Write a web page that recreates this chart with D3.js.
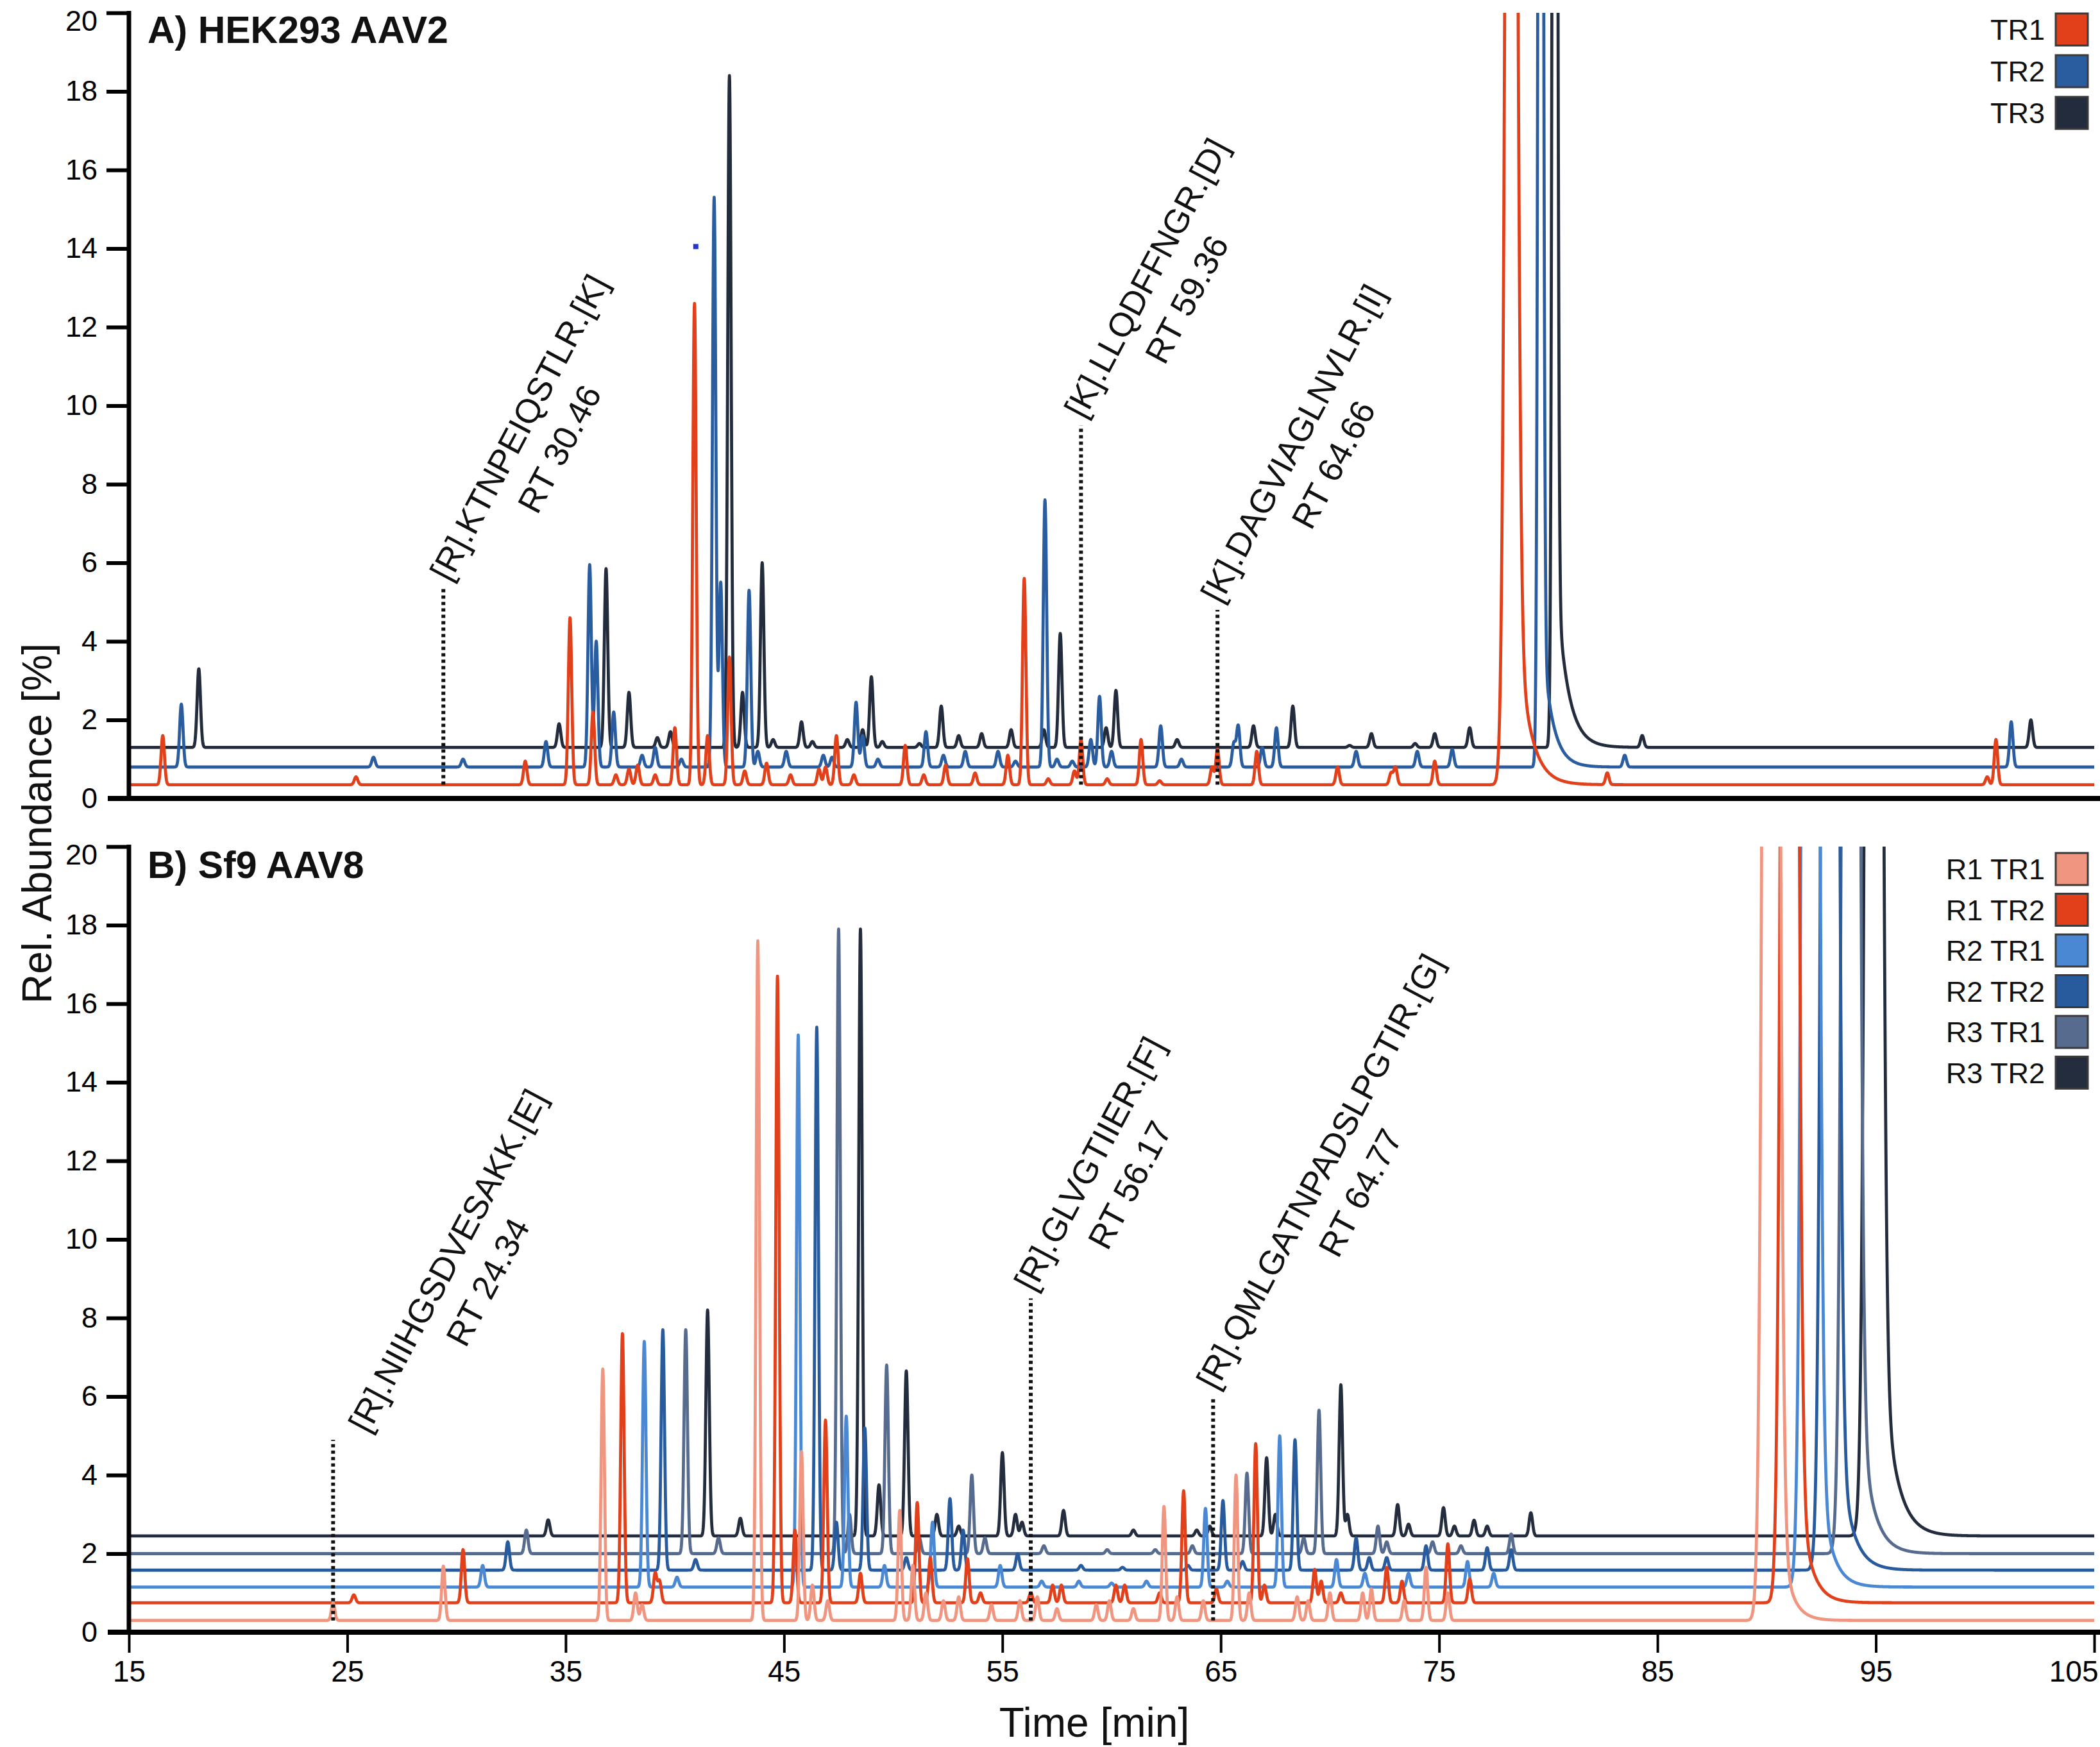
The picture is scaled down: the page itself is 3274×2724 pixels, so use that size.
<!DOCTYPE html>
<html><head><meta charset="utf-8">
<script src="https://cdn.jsdelivr.net/npm/d3@7/dist/d3.min.js"></script>
<style>body{margin:0;background:#fff} svg{display:block}</style>
</head><body>
<svg id="chart" width="3274" height="2724"></svg>
<script>
// ---------------- DATA ----------------
const timeTicks = [15, 25, 35, 45, 55, 65, 75, 85, 95, 105];
const abundanceTicks = [0, 2, 4, 6, 8, 10, 12, 14, 16, 18, 20];

// Panel A – HEK293 AAV2
const seriesA = ["TR1", "TR2", "TR3"];
const colorsA = ["#e2401b", "#2a5d9f", "#222c3c"];
const baselineA = [0.35, 0.8, 1.3];
// peaks: [retention time (min), apex value (%)]
const peaksA_TR1 = [[16.55,1.6],[25.4,0.55],[33.15,0.95],[35.2,4.6],[36.25,2.2],[37.3,0.6],[37.9,0.75],[38.3,0.85],[39.1,0.6],[40.0,1.8],[40.9,12.6],[41.5,1.6],[42.5,3.6],[43.2,0.7],[44.2,0.9],[45.3,0.6],[46.6,0.75],[46.9,0.8],[47.4,1.6],[48.2,0.6],[50.55,1.35],[51.4,0.6],[52.4,0.85],[53.75,0.65],[55.25,1.1],[56.0,5.6],[57.1,0.5],[58.3,0.7],[58.6,1.5],[59.8,0.5],[61.35,1.5],[62.2,0.45],[64.6,0.8],[64.85,1.25],[66.65,1.2],[70.35,0.8],[72.8,0.65],[73.0,0.8],[74.8,0.95],[82.7,0.65],[100.1,0.55],[100.5,1.5]];
const peaksA_TR2 = [[17.4,2.4],[26.2,1.05],[30.3,1.0],[34.1,1.45],[36.1,5.95],[36.4,4.0],[37.2,2.2],[38.5,1.1],[39.1,1.3],[40.3,1.0],[41.8,15.3],[42.1,5.5],[43.4,5.3],[43.8,1.2],[45.1,1.2],[46.8,1.1],[47.2,1.05],[48.3,2.45],[48.6,1.6],[49.3,1.0],[51.5,1.7],[52.3,1.1],[53.3,1.2],[54.8,1.2],[55.6,0.95],[56.95,7.6],[57.5,1.0],[58.2,0.95],[59.05,1.5],[59.45,2.6],[60.0,1.2],[62.25,1.85],[63.2,1.0],[65.6,1.4],[65.8,1.85],[66.9,1.3],[67.55,1.8],[71.2,1.2],[74.0,1.2],[75.6,1.25],[83.5,1.1],[101.2,1.95]];
const peaksA_TR3 = [[18.2,3.3],[34.7,1.9],[36.85,5.85],[37.9,2.7],[39.2,1.55],[39.8,1.7],[42.5,18.4],[43.1,2.7],[44.0,6.0],[44.5,1.5],[45.8,1.95],[46.3,1.45],[47.9,1.5],[48.6,1.75],[49.0,3.1],[49.5,1.45],[51.2,1.4],[52.2,2.35],[53.0,1.6],[54.05,1.65],[55.4,1.75],[56.9,1.75],[57.65,4.2],[59.75,1.8],[60.2,2.75],[63.0,1.5],[66.5,1.85],[68.3,2.35],[70.9,1.35],[71.9,1.65],[73.9,1.4],[74.8,1.65],[76.4,1.8],[84.3,1.6],[102.1,2.0]];
// off-scale main peak: [rt, apex, sigma (min), tail amplitude, tail decay (min)]
const mainPeakA = [[78.3,60,0.2,7,0.55],[79.65,60,0.09,4,0.45],[80.3,60,0.09,5,0.5]];
const stray = [[40.96, 14.05]];

// Panel B – Sf9 AAV8
const seriesB = ["R1 TR1", "R1 TR2", "R2 TR1", "R2 TR2", "R3 TR1", "R3 TR2"];
const colorsB = ["#f0957f", "#e2401b", "#4a88d4", "#285b9e", "#566b8e", "#232d3e"];
const baselineB = [0.3, 0.75, 1.15, 1.58, 2.0, 2.45];
const peaksB_R1TR1 = [[24.35,0.75],[29.4,1.68],[36.7,6.7],[38.2,1.0],[38.5,0.7],[43.8,17.6],[45.8,4.6],[46.3,1.2],[47.0,0.8],[50.3,3.1],[50.9,1.7],[51.5,1.0],[52.3,0.8],[53.0,0.9],[54.5,0.7],[55.8,0.8],[56.6,0.9],[57.5,0.6],[59.3,0.7],[59.9,0.8],[61.0,0.6],[62.4,3.2],[63.0,0.9],[64.2,0.8],[65.7,4.0],[66.3,1.0],[68.5,0.9],[69.0,0.8],[70.0,1.0],[71.5,1.0],[71.9,1.1],[73.4,0.8],[74.4,1.65],[75.4,1.0]];
const peaksB_R1TR2 = [[25.3,0.95],[30.3,2.1],[37.6,7.6],[39.1,1.5],[39.3,1.3],[44.7,16.7],[45.5,2.6],[46.9,5.4],[48.5,1.5],[51.1,3.3],[51.7,1.9],[53.4,1.87],[54.0,1.0],[56.3,1.0],[57.3,1.2],[57.7,1.2],[60.2,1.2],[60.6,1.2],[62.2,1.0],[63.3,3.6],[64.8,1.1],[66.6,4.8],[67.0,1.2],[69.3,1.6],[69.6,1.3],[70.5,1.0],[72.6,1.65],[73.3,1.3],[75.4,2.25],[76.4,1.35]];
const peaksB_R2TR1 = [[31.2,1.7],[38.6,7.4],[40.1,1.4],[45.65,15.2],[47.85,5.5],[49.6,1.7],[51.8,2.8],[54.9,1.7],[56.8,1.3],[58.5,1.3],[60.0,1.25],[61.6,1.3],[64.3,3.15],[65.3,1.3],[67.7,5.0],[70.3,1.85],[71.6,1.5],[73.6,1.5],[76.3,1.8],[77.5,1.5]];
const peaksB_R2TR2 = [[32.35,2.3],[39.45,7.7],[40.95,1.85],[46.5,15.4],[47.4,2.8],[48.7,5.2],[50.6,1.9],[52.6,3.4],[53.2,2.6],[55.7,2.0],[58.6,1.7],[60.5,1.65],[63.5,1.7],[65.1,3.35],[66.0,1.8],[68.4,4.9],[71.2,2.4],[71.8,1.9],[72.6,1.9],[74.4,2.2],[77.2,2.15],[78.3,2.1]];
const peaksB_R3TR1 = [[33.2,2.6],[40.5,7.7],[42.0,2.4],[47.5,17.9],[48.0,3.0],[49.7,6.8],[51.2,2.4],[53.6,4.0],[54.2,2.4],[56.9,2.2],[59.8,2.1],[62.0,2.1],[63.7,2.2],[66.2,4.05],[68.8,2.4],[69.5,5.65],[72.2,2.7],[72.6,2.3],[74.7,2.3],[76.0,2.2],[78.3,2.5]];
const peaksB_R3TR2 = [[34.2,2.86],[41.5,8.2],[43.0,2.9],[48.5,17.9],[49.35,3.75],[50.6,6.65],[52.0,3.0],[53.0,2.7],[55.0,4.57],[55.6,3.0],[55.9,2.8],[57.8,3.1],[61.0,2.6],[63.9,2.6],[64.5,2.7],[67.1,4.44],[67.5,3.0],[70.5,6.3],[70.8,3.0],[73.1,3.25],[73.6,2.75],[75.2,3.17],[75.7,2.7],[76.6,2.85],[77.2,2.7],[79.2,3.04]];
const mainPeakB = [[90.2,100,0.24,6,0.45],[91.05,100,0.24,7,0.5],[92.0,100,0.24,7,0.5],[92.9,100,0.24,7,0.55],[93.85,100,0.24,8,0.55],[94.9,100,0.24,9,0.6]];

// annotations: retention-time marker [time, top value, bottom value]
const markersA = [[29.4,5.35,0.35],[58.6,9.5,0.35],[64.85,4.8,0.35]];
const labelsA = [["[R].KTNPEIQSTLR.[K]","RT 30.46"],["[K].LLQDFFNGR.[D]","RT 59.36"],["[K].DAGVIAGLNVLR.[I]","RT 64.66"]];
const markersB = [[24.35,4.9,0.3],[56.3,8.5,0.3],[64.65,6.0,0.3]];
const labelsB = [["[R].NIIHGSDVESAKK.[E]","RT 24.34"],["[R].GLVGTIIER.[F]","RT 56.17"],["[R].QMLGATNPADSLPGTIR.[G]","RT 64.77"]];

// ---------------- DRAWING ----------------
const FONT = "'Liberation Sans', Arial, sans-serif";
const svg = d3.select("#chart");
const W = 3274;
const x = d3.scaleLinear().domain([15, 105]).range([201, 3265]);
const yA = d3.scaleLinear().domain([0, 20]).range([1245, 20]);
const yB = d3.scaleLinear().domain([0, 20]).range([2545, 1320]);

const SIGMA = 0.078;
function buildTrace(base, peaks, main) {
  const pts = [];
  for (let i = 0; i <= 9000; i++) {
    const t = 15 + i * 0.01;
    let v = base;
    for (const [rt, apex] of peaks) {
      const d = (t - rt) / SIGMA;
      if (d > -7 && d < 7) v += (apex - base) * Math.exp(-0.5 * d * d);
    }
    if (main) {
      const [rt, h, w, ta, tau] = main;
      const d = (t - rt) / w;
      const g = Math.exp(-0.5 * d * d);
      v += h * g;
      if (t > rt) v += ta * Math.exp(-(t - rt) / tau) * (1 - g);
    }
    pts.push([t, v]);
  }
  return pts;
}

function panel(y, id, traces, colors, markers, labels, labelShift) {
  const g = svg.append("g");
  g.append("clipPath").attr("id", id).append("rect")
    .attr("x", x(15)).attr("y", y(20)).attr("width", x(105) - x(15) + 8).attr("height", y(0) - y(20));
  const line = d3.line().x(d => x(d[0])).y(d => y(d[1]));
  const lg = g.append("g").attr("clip-path", `url(#${id})`);
  for (let i = traces.length - 1; i >= 0; i--) {
    lg.append("path").datum(traces[i]).attr("d", line)
      .attr("fill", "none").attr("stroke", colors[i]).attr("stroke-width", 4.8)
      .attr("stroke-linejoin", "round");
  }
  markers.forEach((m, k) => {
    g.append("line").attr("x1", x(m[0])).attr("x2", x(m[0]))
      .attr("y1", y(m[2])).attr("y2", y(m[1]))
      .attr("stroke", "#111").attr("stroke-width", 6).attr("stroke-dasharray", "5,5");
    const ang = -62, rad = ang * Math.PI / 180;
    const dirx = Math.cos(rad), diry = Math.sin(rad);
    const sx = x(m[0]) + labelShift[k], sy = y(m[1]) - 8;
    const t1 = g.append("text").text(labels[k][0])
      .attr("font-family", FONT).attr("font-size", 53).attr("fill", "#111");
    const L = t1.node().getComputedTextLength();
    const cx = sx + dirx * L / 2, cy = sy + diry * L / 2;
    t1.attr("text-anchor", "middle")
      .attr("transform", `translate(${cx},${cy}) rotate(${ang})`);
    g.append("text").text(labels[k][1])
      .attr("font-family", FONT).attr("font-size", 53).attr("fill", "#111")
      .attr("text-anchor", "middle")
      .attr("transform", `translate(${cx},${cy}) rotate(${ang}) translate(0,71)`);
  });
  const ya = g.append("g").attr("transform", `translate(${x(15)},0)`)
    .call(d3.axisLeft(y).tickValues(abundanceTicks).tickSize(35).tickPadding(14).tickSizeOuter(0).tickFormat(d3.format("d")));
  ya.select(".domain").remove();
  ya.selectAll(".tick line").attr("stroke", "#000").attr("stroke-width", 6)
    .filter(d => d === 0).remove();
  ya.selectAll(".tick text").attr("font-family", FONT).attr("font-size", 45).attr("fill", "#000")
    .filter(d => d === 20).attr("dy", "0.62em");
  g.append("line").attr("x1", x(15)).attr("x2", x(15)).attr("y1", y(20) - 3).attr("y2", y(0))
    .attr("stroke", "#000").attr("stroke-width", 7);
  g.append("line").attr("x1", 168).attr("x2", W).attr("y1", y(0)).attr("y2", y(0))
    .attr("stroke", "#000").attr("stroke-width", 8);
  return g;
}

const tracesA = [
  buildTrace(baselineA[0], peaksA_TR1, mainPeakA[0]),
  buildTrace(baselineA[1], peaksA_TR2, mainPeakA[1]),
  buildTrace(baselineA[2], peaksA_TR3, mainPeakA[2])
];
const tracesB = [
  buildTrace(baselineB[0], peaksB_R1TR1, mainPeakB[0]),
  buildTrace(baselineB[1], peaksB_R1TR2, mainPeakB[1]),
  buildTrace(baselineB[2], peaksB_R2TR1, mainPeakB[2]),
  buildTrace(baselineB[3], peaksB_R2TR2, mainPeakB[3]),
  buildTrace(baselineB[4], peaksB_R3TR1, mainPeakB[4]),
  buildTrace(baselineB[5], peaksB_R3TR2, mainPeakB[5])
];

const gA = panel(yA, "clipA", tracesA, colorsA, markersA, labelsA, [10, 5, 5]);
const gB = panel(yB, "clipB", tracesB, colorsB, markersB, labelsB, [55, 5, 5]);

gA.selectAll("rect.stray").data(stray).enter().append("rect").attr("class", "stray")
  .attr("x", d => x(d[0]) - 4).attr("y", d => yA(d[1]) - 4).attr("width", 8).attr("height", 8)
  .attr("fill", "#2236d0");

const xa = gB.append("g").attr("transform", `translate(0,${yB(0)})`)
  .call(d3.axisBottom(x).tickValues(timeTicks).tickSize(32).tickPadding(12).tickSizeOuter(0));
xa.select(".domain").remove();
xa.selectAll(".tick line").attr("stroke", "#000").attr("stroke-width", 4);
xa.selectAll(".tick text").attr("font-family", FONT).attr("font-size", 46).attr("fill", "#000");
xa.selectAll(".tick text").filter(d => d === 105).attr("text-anchor", "end").attr("x", W - 3 - x(105));

svg.append("text").attr("x", 230).attr("y", 67).text("A) HEK293 AAV2")
  .attr("font-family", FONT).attr("font-weight", "bold").attr("font-size", 59).attr("fill", "#111");
svg.append("text").attr("x", 230).attr("y", 1369).text("B) Sf9 AAV8")
  .attr("font-family", FONT).attr("font-weight", "bold").attr("font-size", 59).attr("fill", "#111");

svg.append("text").text("Time [min]").attr("x", 1706).attr("y", 2708)
  .attr("text-anchor", "middle").attr("font-family", FONT).attr("font-size", 64).attr("fill", "#111");
svg.append("text").text("Rel. Abundance [%]")
  .attr("transform", "translate(80,1284) rotate(-90)")
  .attr("text-anchor", "middle").attr("font-family", FONT).attr("font-size", 64).attr("fill", "#111");

function legend(names, colors, top, step) {
  const lg = svg.append("g");
  names.forEach((n, i) => {
    const yy = top + i * step;
    lg.append("rect").attr("x", 3205).attr("y", yy).attr("width", 50).attr("height", 50)
      .attr("fill", colors[i]).attr("stroke", "#3a3a3a").attr("stroke-width", 3);
    lg.append("text").text(n).attr("x", 3188).attr("y", yy + 41)
      .attr("text-anchor", "end").attr("font-family", FONT).attr("font-size", 45).attr("fill", "#111");
  });
}
legend(seriesA, colorsA, 21, 65);
legend(seriesB, colorsB, 1330, 63.5);
</script>
</body></html>
